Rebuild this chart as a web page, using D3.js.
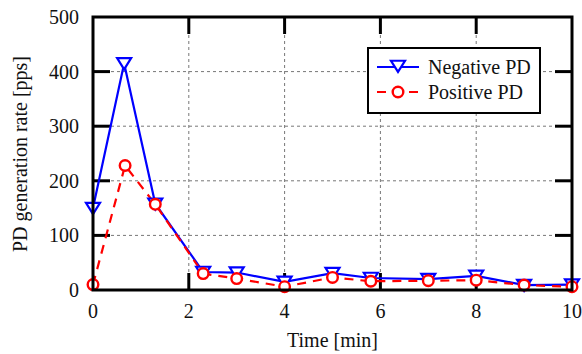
<!DOCTYPE html>
<html><head><meta charset="utf-8">
<script src="https://cdn.jsdelivr.net/npm/d3@7"></script>
<style>body{margin:0;background:#fff}svg text{font-family:"Liberation Serif","Times New Roman","DejaVu Serif",serif;fill:#111}</style>
</head><body><svg id="c" width="582" height="354" font-family="Liberation Serif, Times New Roman, serif"></svg>
<script>
const timeNeg = [0, 0.65, 1.3, 2.3, 3, 4, 5, 5.8, 7, 8, 9, 10];
const negativePD = [150, 415, 158, 33, 32, 15, 31, 22, 20, 26, 9, 10];
const timePos = [0, 0.67, 1.3, 2.3, 3, 4, 5, 5.8, 7, 8, 9, 10];
const positivePD = [10, 228, 157, 30, 21, 6, 23, 16, 17, 18, 9, 6];
const xTicks = [0, 2, 4, 6, 8, 10];
const yTicks = [0, 100, 200, 300, 400, 500];

const svg = d3.select("#c");
const L = 93, R = 572, T = 17, B = 290;
const x = d3.scaleLinear().domain([0, 10]).range([L, R]);
const y = d3.scaleLinear().domain([0, 500]).range([B, T]);
const FS = 20;

// grid
const g = svg.append("g");
g.selectAll(".gx").data(xTicks.slice(1, -1)).enter().append("line")
  .attr("x1", d => x(d)).attr("x2", d => x(d)).attr("y1", T).attr("y2", B)
  .attr("stroke", "#777").attr("stroke-width", 1).attr("stroke-dasharray", "3,3");
g.selectAll(".gy").data(yTicks.slice(1, -1)).enter().append("line")
  .attr("y1", d => y(d)).attr("y2", d => y(d)).attr("x1", L).attr("x2", R)
  .attr("stroke", "#777").attr("stroke-width", 1).attr("stroke-dasharray", "3,3");

// ticks (inward)
const tl = 17;
xTicks.slice(1, -1).forEach(d => {
  svg.append("line").attr("x1", x(d)).attr("x2", x(d)).attr("y1", B).attr("y2", B - tl).attr("stroke", "#000").attr("stroke-width", 3);
  svg.append("line").attr("x1", x(d)).attr("x2", x(d)).attr("y1", T).attr("y2", T + tl).attr("stroke", "#000").attr("stroke-width", 3);
});
yTicks.slice(1, -1).forEach(d => {
  svg.append("line").attr("y1", y(d)).attr("y2", y(d)).attr("x1", L).attr("x2", L + tl).attr("stroke", "#000").attr("stroke-width", 3);
  svg.append("line").attr("y1", y(d)).attr("y2", y(d)).attr("x1", R).attr("x2", R - tl).attr("stroke", "#000").attr("stroke-width", 3);
});

// tick labels
svg.selectAll(".xl").data(xTicks).enter().append("text")
  .attr("x", d => x(d)).attr("y", 318).attr("text-anchor", "middle").attr("font-size", FS).text(d => d);
svg.selectAll(".yl").data(yTicks).enter().append("text")
  .attr("x", 79).attr("y", d => y(d) + 7).attr("text-anchor", "end").attr("font-size", FS).text(d => d);

svg.append("text").attr("x", (L + R) / 2).attr("y", 347).attr("text-anchor", "middle").attr("font-size", FS).text("Time [min]");
svg.append("text").attr("transform", `translate(27,154) rotate(-90)`).attr("text-anchor", "middle").attr("font-size", FS).text("PD generation rate [pps]");

// series
const line = d3.line();
const posPts = timePos.map((t, i) => [x(t), y(positivePD[i])]);
const negPts = timeNeg.map((t, i) => [x(t), y(negativePD[i])]);

svg.append("path").attr("d", line(negPts)).attr("fill", "none").attr("stroke", "#0000ff").attr("stroke-width", 2.2);
svg.append("path").attr("d", line(posPts)).attr("fill", "none").attr("stroke", "#ff0000").attr("stroke-width", 2.2).attr("stroke-dasharray", "9,7");

const tri = s => `M${-s},${-s*0.75}L${s},${-s*0.75}L0,${s*0.85}Z`;
svg.selectAll(".tri").data(negPts).enter().append("path")
  .attr("transform", d => `translate(${d[0]},${d[1]})`).attr("d", tri(7))
  .attr("fill", "#fff").attr("stroke", "#0000ff").attr("stroke-width", 2.2);
svg.selectAll(".circ").data(posPts).enter().append("circle")
  .attr("cx", d => d[0]).attr("cy", d => d[1]).attr("r", 5.3)
  .attr("fill", "#fff").attr("stroke", "#ff0000").attr("stroke-width", 2.4);

// frame
svg.append("rect").attr("x", L).attr("y", T).attr("width", R - L).attr("height", B - T)
  .attr("fill", "none").attr("stroke", "#000").attr("stroke-width", 3);

// legend
const lg = svg.append("g");
lg.append("rect").attr("x", 368).attr("y", 48).attr("width", 172).attr("height", 65).attr("fill", "#fff").attr("stroke", "#000").attr("stroke-width", 2);
lg.append("line").attr("x1", 377).attr("x2", 419).attr("y1", 67).attr("y2", 67).attr("stroke", "#0000ff").attr("stroke-width", 2.2);
lg.append("path").attr("transform", "translate(398,66)").attr("d", tri(7)).attr("fill", "#fff").attr("stroke", "#0000ff").attr("stroke-width", 2.2);
lg.append("line").attr("x1", 377).attr("x2", 419).attr("y1", 92).attr("y2", 92).attr("stroke", "#ff0000").attr("stroke-width", 2.2).attr("stroke-dasharray", "9,7");
lg.append("circle").attr("cx", 398).attr("cy", 92).attr("r", 5.3).attr("fill", "#fff").attr("stroke", "#ff0000").attr("stroke-width", 2.4);
lg.append("text").attr("x", 428).attr("y", 74).attr("font-size", FS).text("Negative PD");
lg.append("text").attr("x", 428).attr("y", 99).attr("font-size", FS).text("Positive PD");
</script></body></html>
